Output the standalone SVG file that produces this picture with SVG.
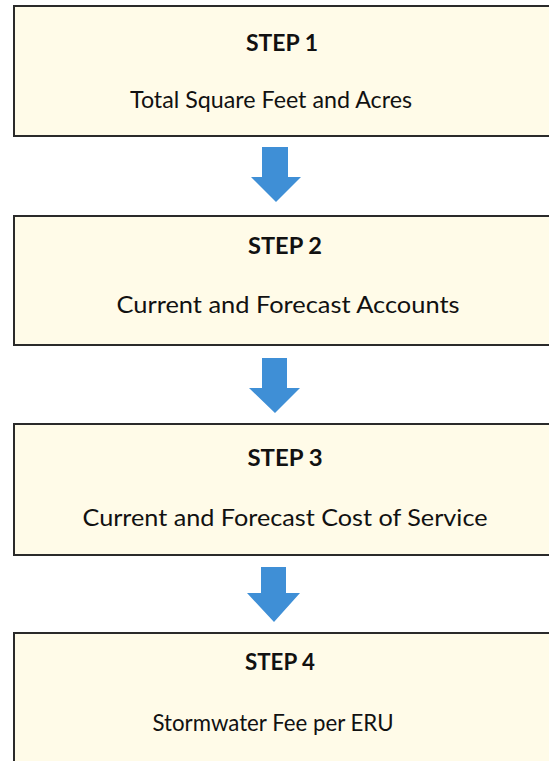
<svg xmlns="http://www.w3.org/2000/svg" width="549" height="761" viewBox="0 0 549 761">
<defs>
<style>
.box{fill:#fffbe8;stroke:#2a2a2a;stroke-width:2}
.title{font-family:Lato,"Open Sans",sans-serif;font-weight:bold;font-size:22px;fill:#111;text-anchor:middle}
.label{font-family:Lato,"Open Sans",sans-serif;font-size:23px;fill:#111;text-anchor:middle}
.arrow{fill:#3f8fd6}
</style>
</defs>
<rect width="549" height="761" fill="#ffffff"/>
<g id="step1">
<rect class="box" x="14" y="6" width="545" height="130"/>
<text class="title" x="282" y="51" textLength="72" lengthAdjust="spacingAndGlyphs">STEP 1</text>
<text class="label" x="271" y="108" textLength="282" lengthAdjust="spacingAndGlyphs">Total Square Feet and Acres</text>
</g>
<g id="step2">
<rect class="box" x="14" y="216" width="545" height="129"/>
<text class="title" x="285" y="254" textLength="74" lengthAdjust="spacingAndGlyphs">STEP 2</text>
<text class="label" x="288" y="313" textLength="343" lengthAdjust="spacingAndGlyphs">Current and Forecast Accounts</text>
</g>
<g id="step3">
<rect class="box" x="14" y="424" width="545" height="131"/>
<text class="title" x="285" y="466" textLength="75" lengthAdjust="spacingAndGlyphs">STEP 3</text>
<text class="label" x="285" y="526" textLength="405" lengthAdjust="spacingAndGlyphs">Current and Forecast Cost of Service</text>
</g>
<g id="step4">
<rect class="box" x="14" y="633" width="545" height="140"/>
<text class="title" x="280" y="670" textLength="70" lengthAdjust="spacingAndGlyphs">STEP 4</text>
<text class="label" x="273" y="731" textLength="241" lengthAdjust="spacingAndGlyphs">Stormwater Fee per ERU</text>
</g>
<g id="connectors">
<polygon class="arrow" points="262,147 288,147 288,177 301,177 276,202 251,177 262,177"/>
<polygon class="arrow" points="262,358 287,358 287,388 300,388 275,413 249,388 262,388"/>
<polygon class="arrow" points="261,567 286,567 286,593 300,593 274,622 247,593 261,593"/>
</g>
</svg>
